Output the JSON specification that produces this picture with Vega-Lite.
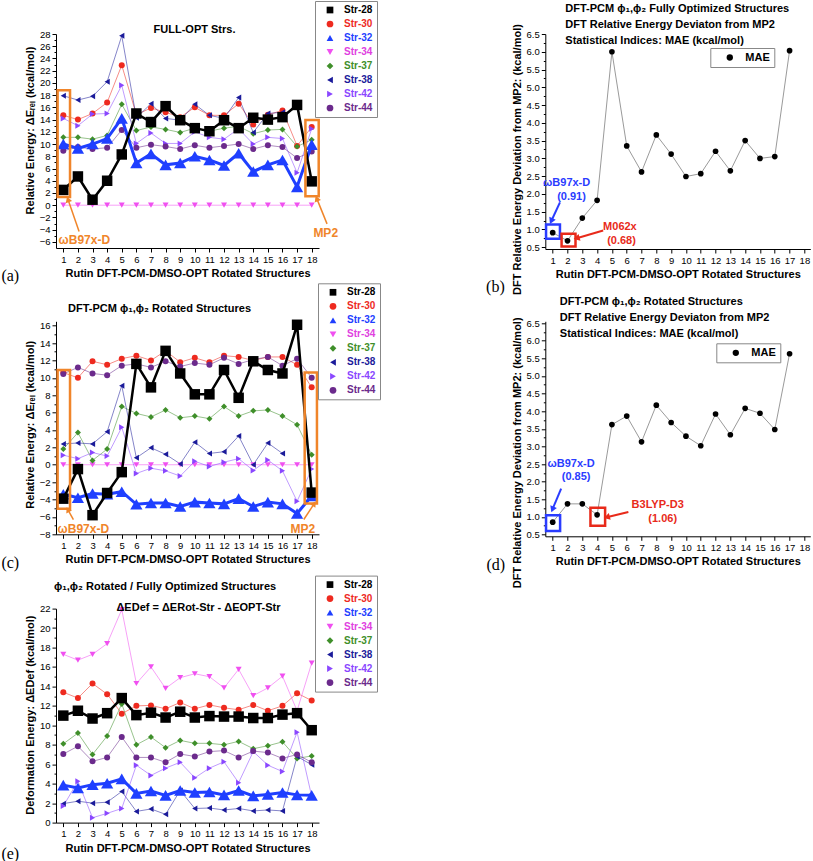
{
"$schema": "https://vega.github.io/schema/vega-lite/v6.json",
"background": "white",
"padding": {"left": 1, "top": 0, "right": 0, "bottom": 0},
"columns": 2,
"bounds": "flush",
"spacing": {"row": 72.3, "column": 226.3},
"resolve": {"scale": {"color": "independent", "shape": "independent"}, "legend": {"color": "independent", "shape": "independent"}},
"config": {
  "font": "Liberation Sans",
  "view": {"stroke": null},
  "axis": {"grid": false, "domainColor": "#000", "tickColor": "#000", "labelColor": "#000", "titleColor": "#000", "labelFont": "Liberation Sans", "titleFont": "Liberation Sans", "labelFontSize": 9.5, "titleFontSize": 11, "titleFontWeight": "bold", "tickSize": 4, "labelFlush": false, "labelOverlap": false},
  "legend": {"orient": "none", "strokeColor": "#888888", "fillColor": "#ffffff", "padding": 4, "labelFont": "Liberation Sans", "labelFontSize": 10, "labelFontWeight": "bold", "rowPadding": 4, "symbolOffset": 6, "labelOffset": 9, "symbolSize": 45, "symbolOpacity": 1, "symbolStrokeWidth": 0},
  "title": {"font": "Liberation Sans", "fontSize": 11, "fontWeight": "bold", "color": "#000", "frame": "group"},
  "text": {"font": "Liberation Sans"}
},
"datasets": {
  "A": [
    {"x":1,"Str-28":2.5,"Str-30":14.7,"Str-32":10.0,"Str-34":0,"Str-37":11.1,"Str-38":17.9,"Str-42":14.2,"Str-44":8.9},
    {"x":2,"Str-28":4.7,"Str-30":14.0,"Str-32":9.3,"Str-34":0,"Str-37":11.1,"Str-38":17.2,"Str-42":13.0,"Str-44":9.5},
    {"x":3,"Str-28":0.9,"Str-30":15.0,"Str-32":10.0,"Str-34":0,"Str-37":10.8,"Str-38":17.8,"Str-42":14.9,"Str-44":9.2},
    {"x":4,"Str-28":4.0,"Str-30":16.8,"Str-32":10.9,"Str-34":0,"Str-37":11.4,"Str-38":20.2,"Str-42":15.0,"Str-44":9.4},
    {"x":5,"Str-28":8.3,"Str-30":22.9,"Str-32":14.2,"Str-34":0,"Str-37":16.5,"Str-38":27.7,"Str-42":19.6,"Str-44":12.3},
    {"x":6,"Str-28":15.0,"Str-30":14.8,"Str-32":6.9,"Str-34":0,"Str-37":12.2,"Str-38":14.3,"Str-42":10.1,"Str-44":9.4},
    {"x":7,"Str-28":13.6,"Str-30":15.9,"Str-32":8.4,"Str-34":0,"Str-37":12.8,"Str-38":16.6,"Str-42":11.8,"Str-44":9.9},
    {"x":8,"Str-28":16.2,"Str-30":15.2,"Str-32":6.6,"Str-34":0,"Str-37":12.4,"Str-38":14.2,"Str-42":10.1,"Str-44":9.6},
    {"x":9,"Str-28":13.9,"Str-30":14.4,"Str-32":6.9,"Str-34":0,"Str-37":11.9,"Str-38":13.9,"Str-42":10.1,"Str-44":9.2},
    {"x":10,"Str-28":12.6,"Str-30":16.0,"Str-32":8.0,"Str-34":0,"Str-37":12.6,"Str-38":16.5,"Str-42":12.0,"Str-44":9.8},
    {"x":11,"Str-28":12.1,"Str-30":14.7,"Str-32":7.4,"Str-34":0,"Str-37":12.1,"Str-38":14.7,"Str-42":11.1,"Str-44":9.4},
    {"x":12,"Str-28":13.9,"Str-30":14.7,"Str-32":6.5,"Str-34":0,"Str-37":12.6,"Str-38":14.2,"Str-42":10.8,"Str-44":9.7},
    {"x":13,"Str-28":12.6,"Str-30":16.6,"Str-32":8.5,"Str-34":0,"Str-37":12.9,"Str-38":17.6,"Str-42":12.5,"Str-44":10.0},
    {"x":14,"Str-28":14.3,"Str-30":13.2,"Str-32":5.5,"Str-34":0,"Str-37":11.7,"Str-38":11.9,"Str-42":10.0,"Str-44":9.2},
    {"x":15,"Str-28":14.0,"Str-30":14.8,"Str-32":6.6,"Str-34":0,"Str-37":12.3,"Str-38":15.0,"Str-42":11.1,"Str-44":9.8},
    {"x":16,"Str-28":14.4,"Str-30":15.5,"Str-32":7.4,"Str-34":0,"Str-37":12.4,"Str-38":15.2,"Str-42":10.9,"Str-44":9.5},
    {"x":17,"Str-28":16.4,"Str-30":9.7,"Str-32":3.0,"Str-34":0,"Str-37":9.6,"Str-38":null,"Str-42":5.3,"Str-44":7.7},
    {"x":18,"Str-28":3.9,"Str-30":12.8,"Str-32":9.9,"Str-34":0,"Str-37":10.7,"Str-38":null,"Str-42":12.5,"Str-44":8.8}
  ],
  "C": [
    {"x":1,"Str-28":-3.9,"Str-30":10.6,"Str-32":-3.4,"Str-34":0,"Str-37":1.8,"Str-38":2.4,"Str-42":1.1,"Str-44":10.45},
    {"x":2,"Str-28":-0.5,"Str-30":10.0,"Str-32":-3.8,"Str-34":0,"Str-37":3.7,"Str-38":2.5,"Str-42":0.7,"Str-44":11.2},
    {"x":3,"Str-28":-5.8,"Str-30":11.9,"Str-32":-3.3,"Str-34":0,"Str-37":0.5,"Str-38":2.4,"Str-42":1.4,"Str-44":10.5},
    {"x":4,"Str-28":-3.25,"Str-30":11.5,"Str-32":-3.4,"Str-34":0,"Str-37":1.8,"Str-38":3.8,"Str-42":1.0,"Str-44":10.3},
    {"x":5,"Str-28":-0.85,"Str-30":12.2,"Str-32":-3.1,"Str-34":0,"Str-37":6.7,"Str-38":9.1,"Str-42":4.3,"Str-44":11.4},
    {"x":6,"Str-28":11.6,"Str-30":12.55,"Str-32":-4.55,"Str-34":0,"Str-37":5.9,"Str-38":0.8,"Str-42":-1.0,"Str-44":11.6},
    {"x":7,"Str-28":8.9,"Str-30":12.0,"Str-32":-4.4,"Str-34":0,"Str-37":5.5,"Str-38":1.95,"Str-42":-0.4,"Str-44":11.2},
    {"x":8,"Str-28":13.1,"Str-30":13.1,"Str-32":-4.4,"Str-34":0,"Str-37":6.3,"Str-38":1.2,"Str-42":-0.7,"Str-44":11.9},
    {"x":9,"Str-28":10.5,"Str-30":11.8,"Str-32":-4.8,"Str-34":0,"Str-37":5.4,"Str-38":0.1,"Str-42":-1.3,"Str-44":11.3},
    {"x":10,"Str-28":8.1,"Str-30":12.3,"Str-32":-4.3,"Str-34":0,"Str-37":5.6,"Str-38":2.6,"Str-42":0.4,"Str-44":11.7},
    {"x":11,"Str-28":8.1,"Str-30":11.8,"Str-32":-4.4,"Str-34":0,"Str-37":5.3,"Str-38":1.3,"Str-42":-0.2,"Str-44":11.5},
    {"x":12,"Str-28":10.9,"Str-30":12.55,"Str-32":-4.5,"Str-34":0,"Str-37":6.7,"Str-38":1.5,"Str-42":0.3,"Str-44":12.3},
    {"x":13,"Str-28":7.7,"Str-30":12.4,"Str-32":-3.9,"Str-34":0,"Str-37":5.6,"Str-38":3.3,"Str-42":0.7,"Str-44":11.6},
    {"x":14,"Str-28":11.9,"Str-30":12.0,"Str-32":-4.8,"Str-34":0,"Str-37":6.2,"Str-38":0.0,"Str-42":-0.65,"Str-44":12.1},
    {"x":15,"Str-28":10.9,"Str-30":12.4,"Str-32":-4.3,"Str-34":0,"Str-37":6.3,"Str-38":2.5,"Str-42":0.55,"Str-44":12.4},
    {"x":16,"Str-28":10.5,"Str-30":12.4,"Str-32":-4.5,"Str-34":0,"Str-37":5.6,"Str-38":1.3,"Str-42":-0.7,"Str-44":11.4},
    {"x":17,"Str-28":16.1,"Str-30":11.5,"Str-32":-5.6,"Str-34":0,"Str-37":4.6,"Str-38":null,"Str-42":-4.2,"Str-44":12.2},
    {"x":18,"Str-28":-3.2,"Str-30":8.9,"Str-32":-3.6,"Str-34":0,"Str-37":1.15,"Str-38":null,"Str-42":-0.5,"Str-44":10.0}
  ],
  "E": [
    {"x":1,"Str-28":11.0,"Str-30":13.4,"Str-32":3.85,"Str-34":17.3,"Str-37":8.1,"Str-38":1.95,"Str-42":1.7,"Str-44":7.05},
    {"x":2,"Str-28":11.5,"Str-30":12.8,"Str-32":3.55,"Str-34":16.7,"Str-37":9.2,"Str-38":2.2,"Str-42":4.25,"Str-44":7.85},
    {"x":3,"Str-28":10.7,"Str-30":14.3,"Str-32":3.9,"Str-34":17.3,"Str-37":7.0,"Str-38":2.0,"Str-42":0.5,"Str-44":6.3},
    {"x":4,"Str-28":11.25,"Str-30":13.2,"Str-32":4.05,"Str-34":18.4,"Str-37":8.9,"Str-38":2.1,"Str-42":0.95,"Str-44":6.7},
    {"x":5,"Str-28":12.8,"Str-30":11.2,"Str-32":4.5,"Str-34":21.9,"Str-37":12.2,"Str-38":3.2,"Str-42":1.45,"Str-44":8.8},
    {"x":6,"Str-28":11.05,"Str-30":12.0,"Str-32":3.0,"Str-34":14.3,"Str-37":8.0,"Str-38":1.15,"Str-42":5.9,"Str-44":6.7},
    {"x":7,"Str-28":11.3,"Str-30":12.05,"Str-32":3.25,"Str-34":16.0,"Str-37":8.8,"Str-38":1.4,"Str-42":4.85,"Str-44":6.7},
    {"x":8,"Str-28":10.8,"Str-30":11.7,"Str-32":2.8,"Str-34":13.8,"Str-37":7.7,"Str-38":0.85,"Str-42":5.6,"Str-44":6.2},
    {"x":9,"Str-28":11.4,"Str-30":12.35,"Str-32":3.3,"Str-34":14.9,"Str-37":8.45,"Str-38":3.3,"Str-42":6.2,"Str-44":7.05},
    {"x":10,"Str-28":10.8,"Str-30":11.7,"Str-32":3.1,"Str-34":15.3,"Str-37":8.15,"Str-38":1.45,"Str-42":4.6,"Str-44":6.8},
    {"x":11,"Str-28":10.95,"Str-30":12.1,"Str-32":3.15,"Str-34":15.0,"Str-37":8.15,"Str-38":1.5,"Str-42":5.6,"Str-44":7.3},
    {"x":12,"Str-28":10.9,"Str-30":11.8,"Str-32":2.85,"Str-34":13.85,"Str-37":8.0,"Str-38":1.3,"Str-42":6.25,"Str-44":7.4},
    {"x":13,"Str-28":10.9,"Str-30":11.6,"Str-32":3.3,"Str-34":15.75,"Str-37":8.35,"Str-38":1.45,"Str-42":4.1,"Str-44":6.7},
    {"x":14,"Str-28":10.75,"Str-30":12.1,"Str-32":2.75,"Str-34":13.05,"Str-37":7.6,"Str-38":1.2,"Str-42":7.3,"Str-44":7.35},
    {"x":15,"Str-28":10.75,"Str-30":11.5,"Str-32":2.9,"Str-34":13.85,"Str-37":7.9,"Str-38":1.3,"Str-42":5.9,"Str-44":7.2},
    {"x":16,"Str-28":11.1,"Str-30":12.0,"Str-32":3.1,"Str-34":15.05,"Str-37":8.3,"Str-38":1.2,"Str-42":5.25,"Str-44":6.6},
    {"x":17,"Str-28":11.25,"Str-30":13.3,"Str-32":2.85,"Str-34":11.5,"Str-37":6.6,"Str-38":6.8,"Str-42":9.3,"Str-44":7.0},
    {"x":18,"Str-28":9.5,"Str-30":12.55,"Str-32":2.8,"Str-34":16.4,"Str-37":6.85,"Str-38":5.95,"Str-42":2.7,"Str-44":6.2}
  ],
  "B": [
    {"x":1,"v":0.91},{"x":2,"v":0.68},{"x":3,"v":1.32},{"x":4,"v":1.82},{"x":5,"v":6.0},{"x":6,"v":3.35},{"x":7,"v":2.62},{"x":8,"v":3.66},{"x":9,"v":3.12},{"x":10,"v":2.49},{"x":11,"v":2.57},{"x":12,"v":3.2},{"x":13,"v":2.65},{"x":14,"v":3.5},{"x":15,"v":3.0},{"x":16,"v":3.05},{"x":17,"v":6.03}
  ],
  "D": [
    {"x":1,"v":0.85},{"x":2,"v":1.37},{"x":3,"v":1.37},{"x":4,"v":1.06},{"x":5,"v":3.62},{"x":6,"v":3.86},{"x":7,"v":3.13},{"x":8,"v":4.17},{"x":9,"v":3.68},{"x":10,"v":3.29},{"x":11,"v":3.02},{"x":12,"v":3.92},{"x":13,"v":3.33},{"x":14,"v":4.08},{"x":15,"v":3.94},{"x":16,"v":3.48},{"x":17,"v":5.63}
  ]
},
"concat": [
  {
    "width": 263, "height": 214,
    "title": {"text": "FULL-OPT Strs.", "anchor": "middle", "dx": 7, "offset": -34},
    "encoding": {
      "x": {"field": "x", "type": "quantitative", "scale": {"domain": [0.5, 18.5], "nice": false, "zero": false}, "axis": {"values": [1,1.5,2,2.5,3,3.5,4,4.5,5,5.5,6,6.5,7,7.5,8,8.5,9,9.5,10,10.5,11,11.5,12,12.5,13,13.5,14,14.5,15,15.5,16,16.5,17,17.5,18], "format": "d", "labelExpr": "datum.value % 1 === 0 ? datum.label : ''", "tickSize": {"condition": {"test": "datum.value % 1 !== 0", "value": 2}, "value": 4}, "title": "Rutin DFT-PCM-DMSO-OPT Rotated Structures"}},
      "y": {"field": "v", "type": "quantitative", "scale": {"domain": [-7, 28], "nice": false, "zero": false}, "axis": {"values": [-6,-5,-4,-3,-2,-1,0,1,2,3,4,5,6,7,8,9,10,11,12,13,14,15,16,17,18,19,20,21,22,23,24,25,26,27,28], "format": "d", "labelExpr": "datum.value % 2 === 0 ? datum.label : ''", "tickSize": {"condition": {"test": "datum.value % 2 !== 0", "value": 2}, "value": 4}, "title": "Relative Energy: ΔEᵣₑₗ (kcal/mol)", "titleY": 96}}
    },
    "layer": [
      {"data": {"name": "A"}, "transform": [{"fold": ["Str-28","Str-30","Str-32","Str-34","Str-37","Str-38","Str-42","Str-44"], "as": ["s","v"]}, {"filter": "datum.s !== 'Str-28' && datum.s !== 'Str-32'"}],
       "mark": {"type": "line", "strokeWidth": 0.9, "opacity": 0.6},
       "encoding": {"color": {"field": "s", "type": "nominal", "scale": {"domain": ["Str-28","Str-30","Str-32","Str-34","Str-37","Str-38","Str-42","Str-44"], "range": ["#000000","#ee2a1f","#1f3fff","#f050f0","#3f8f2a","#1b1b9a","#8a47ff","#6b2a8c"]}}}},
      {"data": {"name": "A"}, "transform": [{"fold": ["Str-28","Str-30","Str-32","Str-34","Str-37","Str-38","Str-42","Str-44"], "as": ["s","v"]}, {"filter": "datum.s !== 'Str-28' && datum.s !== 'Str-32'"}],
       "mark": {"type": "point", "filled": true, "size": 36, "opacity": 1},
       "encoding": {
         "color": {"field": "s", "type": "nominal", "scale": {"domain": ["Str-28","Str-30","Str-32","Str-34","Str-37","Str-38","Str-42","Str-44"], "range": ["#000000","#ee2a1f","#1f3fff","#f050f0","#3f8f2a","#1b1b9a","#8a47ff","#6b2a8c"]}, "legend": {"legendX": 259, "legendY": -33, "title": null, "labelColor": {"expr": "datum.value==='Str-28'?'#000000':datum.value==='Str-30'?'#ee2a1f':datum.value==='Str-32'?'#1f3fff':datum.value==='Str-34'?'#e040e0':datum.value==='Str-37'?'#3f8f2a':datum.value==='Str-38'?'#1b1b9a':datum.value==='Str-42'?'#8a47ff':'#6b2a8c'"}}},
         "shape": {"field": "s", "type": "nominal", "scale": {"domain": ["Str-28","Str-30","Str-32","Str-34","Str-37","Str-38","Str-42","Str-44"], "range": ["square","circle","triangle-up","triangle-down","diamond","triangle-left","triangle-right","circle"]}, "legend": {"legendX": 259, "legendY": -33, "title": null}}
       }},
      {"data": {"name": "A"}, "transform": [{"fold": ["Str-28","Str-30","Str-32","Str-34","Str-37","Str-38","Str-42","Str-44"], "as": ["s","v"]}, {"filter": "datum.s === 'Str-32'"}],
       "mark": {"type": "line", "strokeWidth": 3},
       "encoding": {"color": {"field": "s", "type": "nominal"}}},
      {"data": {"name": "A"}, "transform": [{"fold": ["Str-28","Str-30","Str-32","Str-34","Str-37","Str-38","Str-42","Str-44"], "as": ["s","v"]}, {"filter": "datum.s === 'Str-32'"}],
       "mark": {"type": "point", "filled": true, "size": 150, "opacity": 1},
       "encoding": {"color": {"field": "s", "type": "nominal"}, "shape": {"field": "s", "type": "nominal"}}},
      {"data": {"name": "A"}, "transform": [{"fold": ["Str-28","Str-30","Str-32","Str-34","Str-37","Str-38","Str-42","Str-44"], "as": ["s","v"]}, {"filter": "datum.s === 'Str-28'"}],
       "mark": {"type": "line", "strokeWidth": 2.5},
       "encoding": {"color": {"field": "s", "type": "nominal"}}},
      {"data": {"name": "A"}, "transform": [{"fold": ["Str-28","Str-30","Str-32","Str-34","Str-37","Str-38","Str-42","Str-44"], "as": ["s","v"]}, {"filter": "datum.s === 'Str-28'"}],
       "mark": {"type": "point", "filled": true, "size": 110, "opacity": 1},
       "encoding": {"color": {"field": "s", "type": "nominal"}, "shape": {"field": "s", "type": "nominal"}}},
      {"data": {"values": [{"x": 0.61, "v": 1.33, "x2": 1.46, "v2": 18.8}, {"x": 17.57, "v": 1.48, "x2": 18.48, "v2": 13.95}]},
       "mark": {"type": "rect", "filled": false, "color": "#f0852a", "strokeWidth": 2.5},
       "encoding": {"x2": {"field": "x2"}, "y2": {"field": "v2"}}},
      {"data": {"values": [{"x": 2.08, "v": -4.3, "x2": 1.34, "v2": 0.79}, {"x": 19.05, "v": -3.05, "x2": 18.37, "v2": 0.95}]},
       "mark": {"type": "rule", "color": "#f0852a", "strokeWidth": 1.5},
       "encoding": {"x2": {"field": "x2"}, "y2": {"field": "v2"}}},
      {"data": {"values": [{"x": 1.34, "v": 0.79}]}, "mark": {"type": "point", "shape": "triangle", "filled": true, "color": "#f0852a", "size": 45, "angle": 341, "opacity": 1}},
      {"data": {"values": [{"x": 18.37, "v": 0.95}]}, "mark": {"type": "point", "shape": "triangle", "filled": true, "color": "#f0852a", "size": 45, "angle": 338, "opacity": 1}},
      {"data": {"values": [{"x": 2.44, "v": -5.77, "t": "ωB97x-D"}, {"x": 18.96, "v": -4.52, "t": "MP2"}]},
       "mark": {"type": "text", "color": "#f0852a", "fontWeight": "bold", "fontSize": 12},
       "encoding": {"text": {"field": "t", "type": "nominal"}}},
      {"data": {"values": [{"x": -2.63, "v": -11.6, "t": "(a)"}]},
       "mark": {"type": "text", "font": "Liberation Serif", "fontSize": 16, "color": "#000"},
       "encoding": {"text": {"field": "t", "type": "nominal"}}}
    ]
  },
  {
    "width": 265, "height": 215,
    "title": {"text": ["DFT-PCM ϕ₁,ϕ₂ Fully Optimized Structures", "DFT Relative Energy Deviaton from MP2", "Statistical Indices: MAE (kcal/mol)"], "anchor": "start", "dx": 20, "offset": -22, "lineHeight": 16},
    "encoding": {
      "x": {"field": "x", "type": "quantitative", "scale": {"domain": [0.5, 18.4], "nice": false, "zero": false}, "axis": {"values": [1,1.5,2,2.5,3,3.5,4,4.5,5,5.5,6,6.5,7,7.5,8,8.5,9,9.5,10,10.5,11,11.5,12,12.5,13,13.5,14,14.5,15,15.5,16,16.5,17,17.5,18], "format": "d", "labelExpr": "datum.value % 1 === 0 ? datum.label : ''", "tickSize": {"condition": {"test": "datum.value % 1 !== 0", "value": 2}, "value": 4}, "title": "Rutin DFT-PCM-DMSO-OPT Rotated Structures"}},
      "y": {"field": "v", "type": "quantitative", "scale": {"domain": [0.45, 6.5], "nice": false, "zero": false}, "axis": {"values": [0.5,0.75,1,1.25,1.5,1.75,2,2.25,2.5,2.75,3,3.25,3.5,3.75,4,4.25,4.5,4.75,5,5.25,5.5,5.75,6,6.25,6.5], "format": ".1f", "labelExpr": "round(datum.value*4) % 2 === 0 ? datum.label : ''", "tickSize": {"condition": {"test": "round(datum.value*4) % 2 !== 0", "value": 2}, "value": 4}, "title": "DFT Relative Energy Deviation from MP2: (kcal/mol)", "titleY": 125}}
    },
    "layer": [
      {"data": {"name": "B"}, "mark": {"type": "line", "color": "#9a9a9a", "strokeWidth": 1}, "encoding": {}},
      {"data": {"name": "B"}, "mark": {"type": "point", "filled": true, "size": 32, "opacity": 1},
       "encoding": {"color": {"datum": "MAE", "type": "nominal", "scale": {"domain": ["MAE"], "range": ["#000000"]}, "legend": {"legendX": 165, "legendY": 14, "title": null, "labelFontSize": 11, "labelColor": "#000", "symbolSize": 40, "symbolOffset": 10, "labelOffset": 10}}}},
      {"data": {"values": [{"x": 0.55, "v": 0.735, "x2": 1.49, "v2": 1.14}]}, "mark": {"type": "rect", "filled": false, "color": "#2a3cff", "strokeWidth": 2.5}, "encoding": {"x2": {"field": "x2"}, "y2": {"field": "v2"}}},
      {"data": {"values": [{"x": 1.6, "v": 0.52, "x2": 2.54, "v2": 0.88}]}, "mark": {"type": "rect", "filled": false, "color": "#e82a1a", "strokeWidth": 2.5}, "encoding": {"x2": {"field": "x2"}, "y2": {"field": "v2"}}},
      {"data": {"values": [{"x": 1.49, "v": 1.76, "x2": 0.93, "v2": 1.26}]}, "mark": {"type": "rule", "color": "#2a3cff", "strokeWidth": 2}, "encoding": {"x2": {"field": "x2"}, "y2": {"field": "v2"}}},
      {"data": {"values": [{"x": 0.93, "v": 1.26}]}, "mark": {"type": "point", "shape": "triangle", "filled": true, "color": "#2a3cff", "size": 50, "angle": 205, "opacity": 1}},
      {"data": {"values": [{"x": 4.41, "v": 0.97, "x2": 2.68, "v2": 0.76}]}, "mark": {"type": "rule", "color": "#e82a1a", "strokeWidth": 2}, "encoding": {"x2": {"field": "x2"}, "y2": {"field": "v2"}}},
      {"data": {"values": [{"x": 2.68, "v": 0.76}]}, "mark": {"type": "point", "shape": "triangle", "filled": true, "color": "#e82a1a", "size": 50, "angle": 254, "opacity": 1}},
      {"data": {"values": [{"x": 1.94, "v": 2.3, "t": "ωB97x-D"}, {"x": 2.27, "v": 1.9, "t": "(0.91)"}]}, "mark": {"type": "text", "color": "#2a3cff", "fontWeight": "bold", "fontSize": 11}, "encoding": {"text": {"field": "t", "type": "nominal"}}},
      {"data": {"values": [{"x": 5.54, "v": 1.06, "t": "M062x"}, {"x": 5.65, "v": 0.68, "t": "(0.68)"}]}, "mark": {"type": "text", "color": "#e82a1a", "fontWeight": "bold", "fontSize": 11}, "encoding": {"text": {"field": "t", "type": "nominal"}}},
      {"data": {"values": [{"x": -2.87, "v": -0.63, "t": "(b)"}]}, "mark": {"type": "text", "font": "Liberation Serif", "fontSize": 16, "color": "#000"}, "encoding": {"text": {"field": "t", "type": "nominal"}}}
    ]
  },
  {
    "width": 263, "height": 213,
    "title": {"text": "DFT-PCM ϕ₁,ϕ₂ Rotated Structures", "anchor": "start", "dx": 12, "offset": -31},
    "encoding": {
      "x": {"field": "x", "type": "quantitative", "scale": {"domain": [0.5, 18.5], "nice": false, "zero": false}, "axis": {"values": [1,1.5,2,2.5,3,3.5,4,4.5,5,5.5,6,6.5,7,7.5,8,8.5,9,9.5,10,10.5,11,11.5,12,12.5,13,13.5,14,14.5,15,15.5,16,16.5,17,17.5,18], "format": "d", "labelExpr": "datum.value % 1 === 0 ? datum.label : ''", "tickSize": {"condition": {"test": "datum.value % 1 !== 0", "value": 2}, "value": 4}, "title": "Rutin DFT-PCM-DMSO-OPT Rotated Structures"}},
      "y": {"field": "v", "type": "quantitative", "scale": {"domain": [-8, 16.5], "nice": false, "zero": false}, "axis": {"values": [-8,-7,-6,-5,-4,-3,-2,-1,0,1,2,3,4,5,6,7,8,9,10,11,12,13,14,15,16], "format": "d", "labelExpr": "datum.value % 2 === 0 ? datum.label : ''", "tickSize": {"condition": {"test": "datum.value % 2 !== 0", "value": 2}, "value": 4}, "title": "Relative Energy: ΔEᵣₑₗ (kcal/mol)", "titleY": 103}}
    },
    "layer": [
      {"data": {"name": "C"}, "transform": [{"fold": ["Str-28","Str-30","Str-32","Str-34","Str-37","Str-38","Str-42","Str-44"], "as": ["s","v"]}, {"filter": "datum.s !== 'Str-28' && datum.s !== 'Str-32'"}],
       "mark": {"type": "line", "strokeWidth": 0.9, "opacity": 0.6},
       "encoding": {"color": {"field": "s", "type": "nominal", "scale": {"domain": ["Str-28","Str-30","Str-32","Str-34","Str-37","Str-38","Str-42","Str-44"], "range": ["#000000","#ee2a1f","#1f3fff","#f050f0","#3f8f2a","#1b1b9a","#8a47ff","#6b2a8c"]}}}},
      {"data": {"name": "C"}, "transform": [{"fold": ["Str-28","Str-30","Str-32","Str-34","Str-37","Str-38","Str-42","Str-44"], "as": ["s","v"]}, {"filter": "datum.s !== 'Str-28' && datum.s !== 'Str-32'"}],
       "mark": {"type": "point", "filled": true, "size": 36, "opacity": 1},
       "encoding": {
         "color": {"field": "s", "type": "nominal", "scale": {"domain": ["Str-28","Str-30","Str-32","Str-34","Str-37","Str-38","Str-42","Str-44"], "range": ["#000000","#ee2a1f","#1f3fff","#f050f0","#3f8f2a","#1b1b9a","#8a47ff","#6b2a8c"]}, "legend": {"legendX": 262, "legendY": -38, "title": null, "labelColor": {"expr": "datum.value==='Str-28'?'#000000':datum.value==='Str-30'?'#ee2a1f':datum.value==='Str-32'?'#1f3fff':datum.value==='Str-34'?'#e040e0':datum.value==='Str-37'?'#3f8f2a':datum.value==='Str-38'?'#1b1b9a':datum.value==='Str-42'?'#8a47ff':'#6b2a8c'"}}},
         "shape": {"field": "s", "type": "nominal", "scale": {"domain": ["Str-28","Str-30","Str-32","Str-34","Str-37","Str-38","Str-42","Str-44"], "range": ["square","circle","triangle-up","triangle-down","diamond","triangle-left","triangle-right","circle"]}, "legend": {"legendX": 262, "legendY": -38, "title": null}}
       }},
      {"data": {"name": "C"}, "transform": [{"fold": ["Str-28","Str-30","Str-32","Str-34","Str-37","Str-38","Str-42","Str-44"], "as": ["s","v"]}, {"filter": "datum.s === 'Str-32'"}],
       "mark": {"type": "line", "strokeWidth": 3},
       "encoding": {"color": {"field": "s", "type": "nominal"}}},
      {"data": {"name": "C"}, "transform": [{"fold": ["Str-28","Str-30","Str-32","Str-34","Str-37","Str-38","Str-42","Str-44"], "as": ["s","v"]}, {"filter": "datum.s === 'Str-32'"}],
       "mark": {"type": "point", "filled": true, "size": 150, "opacity": 1},
       "encoding": {"color": {"field": "s", "type": "nominal"}, "shape": {"field": "s", "type": "nominal"}}},
      {"data": {"name": "C"}, "transform": [{"fold": ["Str-28","Str-30","Str-32","Str-34","Str-37","Str-38","Str-42","Str-44"], "as": ["s","v"]}, {"filter": "datum.s === 'Str-28'"}],
       "mark": {"type": "line", "strokeWidth": 2.5},
       "encoding": {"color": {"field": "s", "type": "nominal"}}},
      {"data": {"name": "C"}, "transform": [{"fold": ["Str-28","Str-30","Str-32","Str-34","Str-37","Str-38","Str-42","Str-44"], "as": ["s","v"]}, {"filter": "datum.s === 'Str-28'"}],
       "mark": {"type": "point", "filled": true, "size": 110, "opacity": 1},
       "encoding": {"color": {"field": "s", "type": "nominal"}, "shape": {"field": "s", "type": "nominal"}}},
      {"data": {"values": [{"x": 0.61, "v": -5.05, "x2": 1.46, "v2": 10.9}, {"x": 17.52, "v": -4.45, "x2": 18.36, "v2": 10.6}]},
       "mark": {"type": "rect", "filled": false, "color": "#f0852a", "strokeWidth": 2.5},
       "encoding": {"x2": {"field": "x2"}, "y2": {"field": "v2"}}},
      {"data": {"values": [{"x": 1.69, "v": -6.3, "x2": 1.34, "v2": -5.25}, {"x": 17.46, "v": -6.3, "x2": 18.14, "v2": -4.56}]},
       "mark": {"type": "rule", "color": "#f0852a", "strokeWidth": 1.5},
       "encoding": {"x2": {"field": "x2"}, "y2": {"field": "v2"}}},
      {"data": {"values": [{"x": 1.34, "v": -5.25}]}, "mark": {"type": "point", "shape": "triangle", "filled": true, "color": "#f0852a", "size": 40, "angle": 332, "opacity": 1}},
      {"data": {"values": [{"x": 18.14, "v": -4.56}]}, "mark": {"type": "point", "shape": "triangle", "filled": true, "color": "#f0852a", "size": 40, "angle": 33, "opacity": 1}},
      {"data": {"values": [{"x": 2.37, "v": -7.43, "t": "ωB97x-D"}, {"x": 17.4, "v": -7.43, "t": "MP2"}]},
       "mark": {"type": "text", "color": "#f0852a", "fontWeight": "bold", "fontSize": 12},
       "encoding": {"text": {"field": "t", "type": "nominal"}}},
      {"data": {"values": [{"x": -2.63, "v": -11.26, "t": "(c)"}]},
       "mark": {"type": "text", "font": "Liberation Serif", "fontSize": 16, "color": "#000"},
       "encoding": {"text": {"field": "t", "type": "nominal"}}}
    ]
  },
  {
    "width": 265, "height": 215,
    "title": {"text": ["DFT-PCM ϕ₁,ϕ₂ Rotated Structures", "DFT Relative Energy Deviaton from MP2", "Statistical Indices: MAE (kcal/mol)"], "anchor": "start", "dx": 14.5, "offset": -22, "lineHeight": 16},
    "encoding": {
      "x": {"field": "x", "type": "quantitative", "scale": {"domain": [0.5, 18.4], "nice": false, "zero": false}, "axis": {"values": [1,1.5,2,2.5,3,3.5,4,4.5,5,5.5,6,6.5,7,7.5,8,8.5,9,9.5,10,10.5,11,11.5,12,12.5,13,13.5,14,14.5,15,15.5,16,16.5,17,17.5,18], "format": "d", "labelExpr": "datum.value % 1 === 0 ? datum.label : ''", "tickSize": {"condition": {"test": "datum.value % 1 !== 0", "value": 2}, "value": 4}, "title": "Rutin DFT-PCM-DMSO-OPT Rotated Structures"}},
      "y": {"field": "v", "type": "quantitative", "scale": {"domain": [0.45, 6.55], "nice": false, "zero": false}, "axis": {"values": [0.5,0.75,1,1.25,1.5,1.75,2,2.25,2.5,2.75,3,3.25,3.5,3.75,4,4.25,4.5,4.75,5,5.25,5.5,5.75,6,6.25,6.5], "format": ".1f", "labelExpr": "round(datum.value*4) % 2 === 0 ? datum.label : ''", "tickSize": {"condition": {"test": "round(datum.value*4) % 2 !== 0", "value": 2}, "value": 4}, "title": "DFT Relative Energy Deviation from MP2: (kcal/mol)", "titleY": 131}}
    },
    "layer": [
      {"data": {"name": "D"}, "mark": {"type": "line", "color": "#9a9a9a", "strokeWidth": 1}, "encoding": {}},
      {"data": {"name": "D"}, "mark": {"type": "point", "filled": true, "size": 32, "opacity": 1},
       "encoding": {"color": {"datum": "MAE", "type": "nominal", "scale": {"domain": ["MAE"], "range": ["#000000"]}, "legend": {"legendX": 171, "legendY": 22, "title": null, "labelFontSize": 11, "labelColor": "#000", "symbolSize": 40, "symbolOffset": 10, "labelOffset": 10}}}},
      {"data": {"values": [{"x": 0.55, "v": 0.6, "x2": 1.5, "v2": 1.05}]}, "mark": {"type": "rect", "filled": false, "color": "#2a3cff", "strokeWidth": 2.5}, "encoding": {"x2": {"field": "x2"}, "y2": {"field": "v2"}}},
      {"data": {"values": [{"x": 3.55, "v": 0.75, "x2": 4.54, "v2": 1.26}]}, "mark": {"type": "rect", "filled": false, "color": "#e82a1a", "strokeWidth": 2.5}, "encoding": {"x2": {"field": "x2"}, "y2": {"field": "v2"}}},
      {"data": {"values": [{"x": 1.57, "v": 1.8, "x2": 1.01, "v2": 1.24}]}, "mark": {"type": "rule", "color": "#2a3cff", "strokeWidth": 2}, "encoding": {"x2": {"field": "x2"}, "y2": {"field": "v2"}}},
      {"data": {"values": [{"x": 1.01, "v": 1.24}]}, "mark": {"type": "point", "shape": "triangle", "filled": true, "color": "#2a3cff", "size": 50, "angle": 202, "opacity": 1}},
      {"data": {"values": [{"x": 6.11, "v": 1.14, "x2": 4.72, "v2": 1.0}]}, "mark": {"type": "rule", "color": "#e82a1a", "strokeWidth": 2}, "encoding": {"x2": {"field": "x2"}, "y2": {"field": "v2"}}},
      {"data": {"values": [{"x": 4.72, "v": 1.0}]}, "mark": {"type": "point", "shape": "triangle", "filled": true, "color": "#e82a1a", "size": 50, "angle": 256, "opacity": 1}},
      {"data": {"values": [{"x": 2.24, "v": 2.51, "t": "ωB97x-D"}, {"x": 2.58, "v": 2.14, "t": "(0.85)"}]}, "mark": {"type": "text", "color": "#2a3cff", "fontWeight": "bold", "fontSize": 11}, "encoding": {"text": {"field": "t", "type": "nominal"}}},
      {"data": {"values": [{"x": 8.09, "v": 1.35, "t": "B3LYP-D3"}, {"x": 8.43, "v": 0.94, "t": "(1.06)"}]}, "mark": {"type": "text", "color": "#e82a1a", "fontWeight": "bold", "fontSize": 11}, "encoding": {"text": {"field": "t", "type": "nominal"}}},
      {"data": {"values": [{"x": -2.84, "v": -0.36, "t": "(d)"}]}, "mark": {"type": "text", "font": "Liberation Serif", "fontSize": 16, "color": "#000"}, "encoding": {"text": {"field": "t", "type": "nominal"}}}
    ]
  },
  {
    "width": 263, "height": 214,
    "title": {"text": "ϕ₁,ϕ₂ Rotated / Fully Optimized Structures", "anchor": "start", "dx": -2, "offset": -17},
    "encoding": {
      "x": {"field": "x", "type": "quantitative", "scale": {"domain": [0.5, 18.5], "nice": false, "zero": false}, "axis": {"values": [1,1.5,2,2.5,3,3.5,4,4.5,5,5.5,6,6.5,7,7.5,8,8.5,9,9.5,10,10.5,11,11.5,12,12.5,13,13.5,14,14.5,15,15.5,16,16.5,17,17.5,18], "format": "d", "labelExpr": "datum.value % 1 === 0 ? datum.label : ''", "tickSize": {"condition": {"test": "datum.value % 1 !== 0", "value": 2}, "value": 4}, "title": "Rutin DFT-PCM-DMSO-OPT Rotated Structures"}},
      "y": {"field": "v", "type": "quantitative", "scale": {"domain": [0, 22], "nice": false, "zero": false}, "axis": {"values": [0,1,2,3,4,5,6,7,8,9,10,11,12,13,14,15,16,17,18,19,20,21,22], "format": "d", "labelExpr": "datum.value % 2 === 0 ? datum.label : ''", "tickSize": {"condition": {"test": "datum.value % 2 !== 0", "value": 2}, "value": 4}, "title": "Deformation Energy: ΔEDef (kcal/mol)", "titleY": 106}}
    },
    "layer": [
      {"data": {"name": "E"}, "transform": [{"fold": ["Str-28","Str-30","Str-32","Str-34","Str-37","Str-38","Str-42","Str-44"], "as": ["s","v"]}, {"filter": "datum.s !== 'Str-28' && datum.s !== 'Str-32'"}],
       "mark": {"type": "line", "strokeWidth": 0.9, "opacity": 0.6},
       "encoding": {"color": {"field": "s", "type": "nominal", "scale": {"domain": ["Str-28","Str-30","Str-32","Str-34","Str-37","Str-38","Str-42","Str-44"], "range": ["#000000","#ee2a1f","#1f3fff","#f050f0","#3f8f2a","#1b1b9a","#8a47ff","#6b2a8c"]}}}},
      {"data": {"name": "E"}, "transform": [{"fold": ["Str-28","Str-30","Str-32","Str-34","Str-37","Str-38","Str-42","Str-44"], "as": ["s","v"]}, {"filter": "datum.s !== 'Str-28' && datum.s !== 'Str-32'"}],
       "mark": {"type": "point", "filled": true, "size": 36, "opacity": 1},
       "encoding": {
         "color": {"field": "s", "type": "nominal", "scale": {"domain": ["Str-28","Str-30","Str-32","Str-34","Str-37","Str-38","Str-42","Str-44"], "range": ["#000000","#ee2a1f","#1f3fff","#f050f0","#3f8f2a","#1b1b9a","#8a47ff","#6b2a8c"]}, "legend": {"legendX": 259, "legendY": -33, "title": null, "labelColor": {"expr": "datum.value==='Str-28'?'#000000':datum.value==='Str-30'?'#ee2a1f':datum.value==='Str-32'?'#1f3fff':datum.value==='Str-34'?'#e040e0':datum.value==='Str-37'?'#3f8f2a':datum.value==='Str-38'?'#1b1b9a':datum.value==='Str-42'?'#8a47ff':'#6b2a8c'"}}},
         "shape": {"field": "s", "type": "nominal", "scale": {"domain": ["Str-28","Str-30","Str-32","Str-34","Str-37","Str-38","Str-42","Str-44"], "range": ["square","circle","triangle-up","triangle-down","diamond","triangle-left","triangle-right","circle"]}, "legend": {"legendX": 259, "legendY": -33, "title": null}}
       }},
      {"data": {"name": "E"}, "transform": [{"fold": ["Str-28","Str-30","Str-32","Str-34","Str-37","Str-38","Str-42","Str-44"], "as": ["s","v"]}, {"filter": "datum.s === 'Str-32'"}],
       "mark": {"type": "line", "strokeWidth": 3},
       "encoding": {"color": {"field": "s", "type": "nominal"}}},
      {"data": {"name": "E"}, "transform": [{"fold": ["Str-28","Str-30","Str-32","Str-34","Str-37","Str-38","Str-42","Str-44"], "as": ["s","v"]}, {"filter": "datum.s === 'Str-32'"}],
       "mark": {"type": "point", "filled": true, "size": 150, "opacity": 1},
       "encoding": {"color": {"field": "s", "type": "nominal"}, "shape": {"field": "s", "type": "nominal"}}},
      {"data": {"name": "E"}, "transform": [{"fold": ["Str-28","Str-30","Str-32","Str-34","Str-37","Str-38","Str-42","Str-44"], "as": ["s","v"]}, {"filter": "datum.s === 'Str-28'"}],
       "mark": {"type": "line", "strokeWidth": 2.5},
       "encoding": {"color": {"field": "s", "type": "nominal"}}},
      {"data": {"name": "E"}, "transform": [{"fold": ["Str-28","Str-30","Str-32","Str-34","Str-37","Str-38","Str-42","Str-44"], "as": ["s","v"]}, {"filter": "datum.s === 'Str-28'"}],
       "mark": {"type": "point", "filled": true, "size": 110, "opacity": 1},
       "encoding": {"color": {"field": "s", "type": "nominal"}, "shape": {"field": "s", "type": "nominal"}}},
      {"data": {"values": [{"x": 10.25, "v": 22.1, "t": "ΔEDef = ΔERot-Str - ΔEOPT-Str"}]},
       "mark": {"type": "text", "fontWeight": "bold", "fontSize": 11, "color": "#000"},
       "encoding": {"text": {"field": "t", "type": "nominal"}}},
      {"data": {"values": [{"x": -2.63, "v": -3.2, "t": "(e)"}]},
       "mark": {"type": "text", "font": "Liberation Serif", "fontSize": 16, "color": "#000"},
       "encoding": {"text": {"field": "t", "type": "nominal"}}}
    ]
  }
]
}
